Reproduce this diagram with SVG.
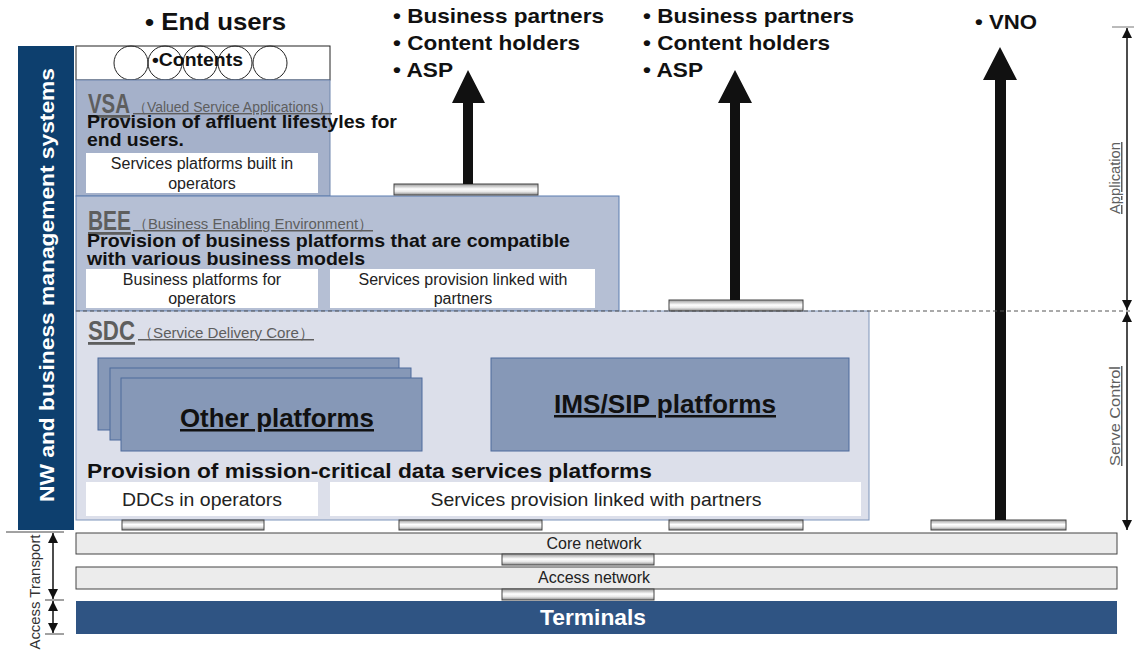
<svg xmlns="http://www.w3.org/2000/svg" width="1134" height="652" viewBox="0 0 1134 652">
<defs>
<linearGradient id="bar" x1="0" y1="0" x2="0" y2="1">
<stop offset="0" stop-color="#9a9a9a"/><stop offset="0.45" stop-color="#ffffff"/><stop offset="0.7" stop-color="#e8e8e8"/><stop offset="1" stop-color="#8a8a8a"/>
</linearGradient>
<marker id="ah" viewBox="0 0 10 10" refX="10" refY="5" markerWidth="10" markerHeight="10" markerUnits="userSpaceOnUse" orient="auto-start-reverse">
<path d="M0,0 L10,5 L0,10 Z" fill="#111"/>
</marker>
</defs>
<style>
.b{font-family:"Liberation Sans",Arial,sans-serif;font-weight:bold;fill:#111}
.n{font-family:"Liberation Sans",Arial,sans-serif;fill:#222}
.g{font-family:"Liberation Sans",Arial,sans-serif;fill:#5e5e5e;text-decoration:underline}
.wb{fill:#fff;stroke:none}
.cb{fill:url(#bar);stroke:#444;stroke-width:1}
.pl{fill:#8698b7;stroke:#4d6b9c;stroke-width:1}
</style>
<rect width="1134" height="652" fill="#fff"/>

<g id="nwbms">
<rect x="18" y="46" width="56" height="484" fill="#0d3f6e"/>
<text class="b" transform="translate(54,285) rotate(-90)" text-anchor="middle" font-size="20" style="fill:#fff" textLength="434" lengthAdjust="spacingAndGlyphs">NW and business management systems</text>
</g>

<g id="contents">
<rect x="76" y="46" width="254" height="34" fill="#fff" stroke="#222"/>
<circle cx="131" cy="63" r="17" fill="none" stroke="#222"/>
<circle cx="165" cy="63" r="17" fill="none" stroke="#222"/>
<circle cx="200" cy="63" r="17" fill="none" stroke="#222"/>
<circle cx="235" cy="63" r="17" fill="none" stroke="#222"/>
<circle cx="270" cy="63" r="17" fill="none" stroke="#222"/>
<text class="b" x="152" y="66" font-size="18" textLength="91" lengthAdjust="spacingAndGlyphs">•Contents</text>
</g>

<g id="vsa">
<rect x="76" y="80" width="254" height="116" fill="#a5b1ca" stroke="#6f86ad"/>
<text class="g" x="88" y="113" font-size="28" font-weight="bold" textLength="42" lengthAdjust="spacingAndGlyphs">VSA</text>
<text class="g" x="133" y="112" font-size="14" textLength="199" lengthAdjust="spacingAndGlyphs">（Valued Service Applications）</text>
<text class="b" x="87" y="128" font-size="19" textLength="310" lengthAdjust="spacingAndGlyphs">Provision of affluent lifestyles for</text>
<text class="b" x="87" y="146" font-size="19" textLength="97" lengthAdjust="spacingAndGlyphs">end users.</text>
<rect class="wb" x="86" y="153" width="232" height="40"/>
<text class="n" x="202" y="169" text-anchor="middle" font-size="16">Services platforms built in</text>
<text class="n" x="202" y="189" text-anchor="middle" font-size="16">operators</text>
</g>

<g id="bee">
<rect x="76" y="196" width="543" height="115" fill="#b5bfd4" stroke="#5a7db0"/>
<text class="g" x="88" y="230" font-size="28" font-weight="bold" textLength="43" lengthAdjust="spacingAndGlyphs">BEE</text>
<text class="g" x="133" y="229" font-size="15" textLength="240" lengthAdjust="spacingAndGlyphs">（Business Enabling Environment）</text>
<text class="b" x="87" y="247" font-size="19" textLength="483" lengthAdjust="spacingAndGlyphs">Provision of business platforms that are compatible</text>
<text class="b" x="87" y="265" font-size="19" textLength="278" lengthAdjust="spacingAndGlyphs">with various business models</text>
<rect class="wb" x="86" y="269" width="232" height="39"/>
<rect class="wb" x="330" y="269" width="265" height="39"/>
<text class="n" x="202" y="285" text-anchor="middle" font-size="16">Business platforms for</text>
<text class="n" x="202" y="304" text-anchor="middle" font-size="16">operators</text>
<text class="n" x="463" y="285" text-anchor="middle" font-size="16">Services provision linked with</text>
<text class="n" x="463" y="304" text-anchor="middle" font-size="16">partners</text>
</g>

<g id="sdc">
<rect x="76" y="311" width="793" height="209" fill="#dcdfea" stroke="#7f95bb"/>
<text class="g" x="88" y="340" font-size="28" font-weight="bold" textLength="47" lengthAdjust="spacingAndGlyphs">SDC</text>
<text class="g" x="138" y="338" font-size="15" textLength="176" lengthAdjust="spacingAndGlyphs">（Service Delivery Core）</text>
<text class="b" x="87" y="478" font-size="21" textLength="565" lengthAdjust="spacingAndGlyphs">Provision of mission-critical data services platforms</text>
<rect class="wb" x="86" y="482" width="232" height="34"/>
<rect class="wb" x="330" y="482" width="531" height="34"/>
<text class="n" x="202" y="506" text-anchor="middle" font-size="19" textLength="160" lengthAdjust="spacingAndGlyphs">DDCs in operators</text>
<text class="n" x="596" y="506" text-anchor="middle" font-size="19" textLength="331" lengthAdjust="spacingAndGlyphs">Services provision linked with partners</text>
</g>

<g id="other-platforms">
<rect class="pl" x="98" y="358" width="301" height="72"/>
<rect class="pl" x="110" y="368" width="301" height="72"/>
<rect class="pl" x="121" y="378" width="301" height="73"/>
<text class="b" x="277" y="427" text-anchor="middle" font-size="25" text-decoration="underline" textLength="194" lengthAdjust="spacingAndGlyphs">Other platforms</text>
</g>

<g id="ims-sip">
<rect class="pl" x="491" y="358" width="358" height="93"/>
<text class="b" x="665" y="413" text-anchor="middle" font-size="25" text-decoration="underline" textLength="222" lengthAdjust="spacingAndGlyphs">IMS/SIP platforms</text>
</g>

<g id="core-network">
<rect x="76" y="533" width="1041" height="21" fill="#ececec" stroke="#444"/>
<text class="n" x="594" y="549" text-anchor="middle" font-size="16">Core network</text>
</g>
<g id="access-network">
<rect x="76" y="567" width="1041" height="22" fill="#ececec" stroke="#444"/>
<text class="n" x="594" y="583" text-anchor="middle" font-size="16">Access network</text>
</g>
<g id="terminals">
<rect x="76" y="601" width="1041" height="33" fill="#2f5483"/>
<text class="b" x="593" y="625" text-anchor="middle" font-size="22" style="fill:#fff" textLength="106" lengthAdjust="spacingAndGlyphs">Terminals</text>
</g>

<g id="labels-top">
<text class="b" x="145" y="30" font-size="24" textLength="141" lengthAdjust="spacingAndGlyphs">• End users</text>
<text class="b" x="393" y="23" font-size="21" textLength="211" lengthAdjust="spacingAndGlyphs">• Business partners</text>
<text class="b" x="393" y="50" font-size="21" textLength="187" lengthAdjust="spacingAndGlyphs">• Content holders</text>
<text class="b" x="393" y="77" font-size="21" textLength="60" lengthAdjust="spacingAndGlyphs">• ASP</text>
<text class="b" x="643" y="23" font-size="21" textLength="211" lengthAdjust="spacingAndGlyphs">• Business partners</text>
<text class="b" x="643" y="50" font-size="21" textLength="187" lengthAdjust="spacingAndGlyphs">• Content holders</text>
<text class="b" x="643" y="77" font-size="21" textLength="60" lengthAdjust="spacingAndGlyphs">• ASP</text>
<text class="b" x="975" y="29" font-size="21" textLength="62" lengthAdjust="spacingAndGlyphs">• VNO</text>
</g>

<g id="connectors">
<rect class="cb" x="394" y="184" width="144" height="11"/>
<rect class="cb" x="669" y="300" width="134" height="11"/>
<rect class="cb" x="122" y="520" width="142" height="10"/>
<rect class="cb" x="399" y="520" width="143" height="10"/>
<rect class="cb" x="669" y="520" width="134" height="10"/>
<rect class="cb" x="931" y="520" width="135" height="10"/>
<rect class="cb" x="502" y="554" width="152" height="11"/>
<rect class="cb" x="502" y="589" width="152" height="11"/>
<path d="M463,184 V103 H452 L468,70 L485,103 H473 V184 Z" fill="#111"/>
<path d="M730,300 V103 H718 L735,70 L752,103 H740 V300 Z" fill="#111"/>
<path d="M995,520 V80 H983 L1000,47 L1017,80 H1006 V520 Z" fill="#111"/>
<line x1="76" y1="311" x2="1132" y2="311" stroke="#555" stroke-dasharray="4,3"/>
<line x1="1112" y1="27" x2="1134" y2="27" stroke="#777"/>
<line x1="1127" y1="28" x2="1127" y2="310" stroke="#111" stroke-width="1.5" marker-start="url(#ah)" marker-end="url(#ah)"/>
<line x1="1127" y1="312" x2="1127" y2="530" stroke="#111" stroke-width="1.5" marker-start="url(#ah)" marker-end="url(#ah)"/>
<line x1="6" y1="532" x2="64" y2="532" stroke="#444"/>
<line x1="45" y1="600" x2="64" y2="600" stroke="#444"/>
<line x1="45" y1="634" x2="64" y2="634" stroke="#444"/>
<line x1="53" y1="533" x2="53" y2="599" stroke="#111" stroke-width="1.5" marker-start="url(#ah)" marker-end="url(#ah)"/>
<line x1="53" y1="601" x2="53" y2="633" stroke="#111" stroke-width="1.5" marker-start="url(#ah)" marker-end="url(#ah)"/>
</g>

<g id="side-labels">
<text class="g" transform="translate(1120,178) rotate(-90)" text-anchor="middle" font-size="15" textLength="72" lengthAdjust="spacingAndGlyphs">Application</text>
<text class="g" transform="translate(1120,416) rotate(-90)" text-anchor="middle" font-size="15" textLength="100" lengthAdjust="spacingAndGlyphs">Serve Control</text>
<text class="n" transform="translate(40,592) rotate(-90)" text-anchor="middle" font-size="15" style="fill:#333" textLength="115" lengthAdjust="spacingAndGlyphs">Access Transport</text>
</g>
</svg>
